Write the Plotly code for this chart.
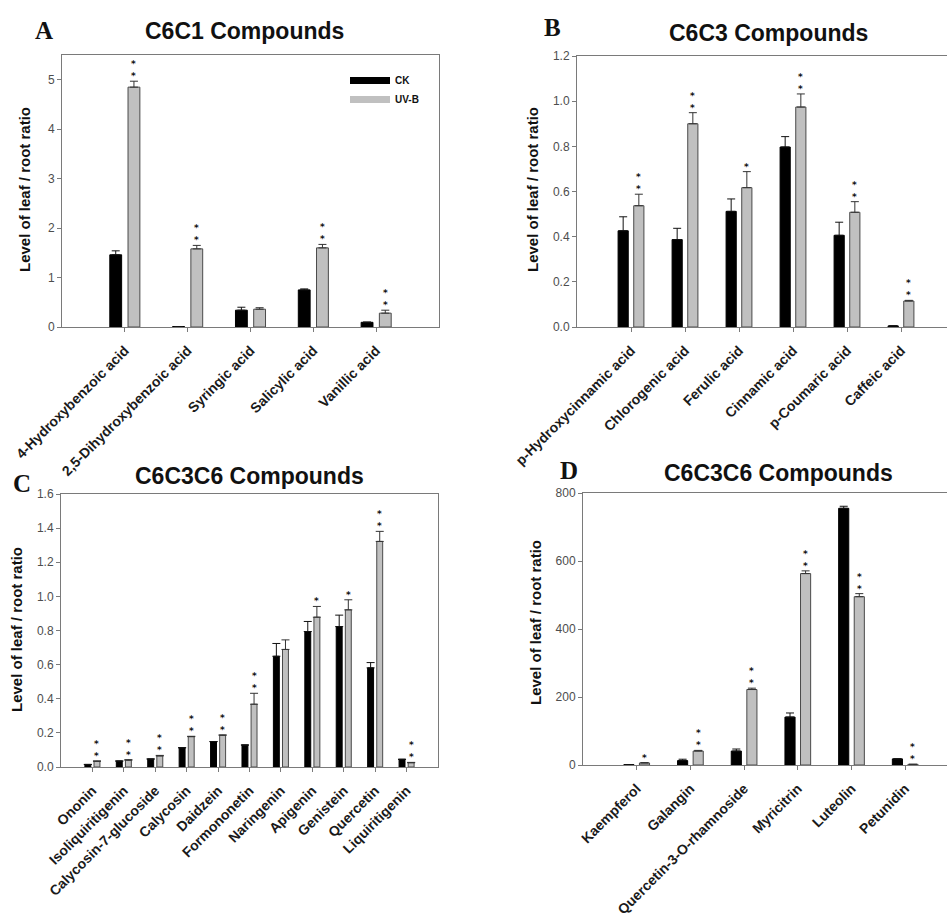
import plotly.graph_objects as go

W, H = 947, 916

# ---------------- data ----------------
a_cats = ["4-Hydroxybenzoic acid", "2,5-Dihydroxybenzoic acid", "Syringic acid", "Salicylic acid", "Vanillic acid"]
a_ck = [1.46, 0.01, 0.34, 0.75, 0.095]
a_ck_err = [0.08, 0.0, 0.06, 0.02, 0.005]
a_uv = [4.85, 1.58, 0.36, 1.60, 0.28]
a_uv_err = [0.12, 0.07, 0.03, 0.07, 0.06]
a_sig = ["**", "**", "", "**", "**"]

b_cats = ["p-Hydroxycinnamic acid", "Chlorogenic acid", "Ferulic acid", "Cinnamic acid", "p-Coumaric acid", "Caffeic acid"]
b_ck = [0.426, 0.387, 0.512, 0.797, 0.406, 0.005]
b_ck_err = [0.062, 0.050, 0.055, 0.046, 0.058, 0.0]
b_uv = [0.537, 0.900, 0.617, 0.974, 0.508, 0.115]
b_uv_err = [0.051, 0.049, 0.071, 0.058, 0.047, 0.003]
b_sig = ["**", "**", "*", "**", "**", "**"]

c_cats = ["Ononin", "Isoliquiritigenin", "Calycosin-7-glucoside", "Calycosin", "Daidzein", "Formononetin",
          "Naringenin", "Apigenin", "Genistein", "Quercetin", "Liquiritigenin"]
c_ck = [0.015, 0.035, 0.047, 0.113, 0.149, 0.129, 0.649, 0.794, 0.823, 0.581, 0.045]
c_ck_err = [0.0, 0.0, 0.0, 0.0, 0.0, 0.0, 0.075, 0.059, 0.067, 0.031, 0.0]
c_uv = [0.033, 0.040, 0.065, 0.178, 0.186, 0.368, 0.689, 0.878, 0.921, 1.322, 0.025]
c_uv_err = [0.003, 0.003, 0.003, 0.002, 0.002, 0.064, 0.056, 0.063, 0.059, 0.059, 0.002]
c_sig = ["**", "**", "**", "**", "**", "**", "", "*", "*", "**", "**"]

d_cats = ["Kaempferol", "Galangin", "Quercetin-3-O-rhamnoside", "Myricitrin", "Luteolin", "Petunidin"]
d_ck = [1, 13, 41, 141, 755, 18]
d_ck_err = [0, 4, 6, 12, 6, 0]
d_uv = [6, 41, 222, 563, 495, 2]
d_uv_err = [1, 2, 4, 8, 9, 0]
d_sig = ["*", "**", "**", "**", "**", "**"]

a_ticks = [0, 1, 2, 3, 4, 5]
b_ticks = [0.0, 0.2, 0.4, 0.6, 0.8, 1.0, 1.2]
c_ticks = [0.0, 0.2, 0.4, 0.6, 0.8, 1.0, 1.2, 1.4, 1.6]
d_ticks = [0, 200, 400, 600, 800]

titles = ["C6C1 Compounds", "C6C3 Compounds", "C6C3C6 Compounds", "C6C3C6 Compounds"]
letters = ["A", "B", "C", "D"]
ytitle = "Level of leaf / root ratio"

# ---------------- geometry / style ----------------
FONT = "Liberation Sans, Arial, sans-serif"
SERIF = "Liberation Serif, Times New Roman, serif"
STARFONT = "DejaVu Sans, sans-serif"
AXC = "#7a7a7a"
CK_COL = "#000000"
UV_COL = "#c0c0c0"
UV_LINE = "#4a4a4a"
BARGAP = 0.42
OFF = (1 - BARGAP) / 4  # center offset of each bar in a pair

# pixel boxes: left, right, top, bottom ; x range extents
panels = [
    dict(cats=a_cats, ck=a_ck, cke=a_ck_err, uv=a_uv, uve=a_uv_err, sig=a_sig, ticks=a_ticks, fmt="d",
         box=(62, 439, 55, 327), yr=[0, 5.5], xr_right=None, mirror_y=True,
         title=(244, 31), letter=(44, 30), ylab=(25, 190)),
    dict(cats=b_cats, ck=b_ck, cke=b_ck_err, uv=b_uv, uve=b_uv_err, sig=b_sig, ticks=b_ticks, fmt=".1f",
         box=(577, 947, 56, 327), yr=[0, 1.2], xr_right=54.0, mirror_y=False,
         title=(768, 33), letter=(552, 28), ylab=(533, 190)),
    dict(cats=c_cats, ck=c_ck, cke=c_ck_err, uv=c_uv, uve=c_uv_err, sig=c_sig, ticks=c_ticks, fmt=".1f",
         box=(61, 438, 494, 767), yr=[0, 1.6], xr_right=None, mirror_y=True,
         title=(250, 476), letter=(22, 483), ylab=(16, 630)),
    dict(cats=d_cats, ck=d_ck, cke=d_ck_err, uv=d_uv, uve=d_uv_err, sig=d_sig, ticks=d_ticks, fmt="d",
         box=(583, 947, 493, 765), yr=[0, 800], xr_right=53.7, mirror_y=False,
         title=(778, 473), letter=(569, 470), ylab=(535, 623)),
]

fig = go.Figure()
annotations = []
layout = {}

for i, p in enumerate(panels, start=1):
    xa = "x" if i == 1 else f"x{i}"
    ya = "y" if i == 1 else f"y{i}"
    xkey = "xaxis" if i == 1 else f"xaxis{i}"
    ykey = "yaxis" if i == 1 else f"yaxis{i}"
    n = len(p["cats"])
    fig.add_trace(go.Bar(
        x=p["cats"], y=p["ck"], name="CK", xaxis=xa, yaxis=ya, showlegend=False,
        marker=dict(color=CK_COL, line=dict(color=CK_COL, width=1)),
        error_y=dict(type="data", symmetric=False, array=p["cke"], arrayminus=[0] * n,
                     color="#111111", thickness=1, width=4),
    ))
    fig.add_trace(go.Bar(
        x=p["cats"], y=p["uv"], name="UV-B", xaxis=xa, yaxis=ya, showlegend=False,
        marker=dict(color=UV_COL, line=dict(color=UV_LINE, width=1)),
        error_y=dict(type="data", symmetric=False, array=p["uve"], arrayminus=[0] * n,
                     color="#333333", thickness=1, width=4),
    ))
    l, r, t, b = p["box"]
    if p["xr_right"] is None:
        xr = [-1, n]
    else:
        xr = [-1, -1 + (r - l) / p["xr_right"]]
    layout[xkey] = dict(
        domain=[l / W, r / W], anchor=ya, type="category", range=xr, automargin=False,
        showline=True, linecolor=AXC, linewidth=1, mirror=True,
        ticks="outside", ticklen=4, tickcolor=AXC, tickangle=-45, ticklabelstandoff=5,
        tickfont=dict(family=FONT, size=14, color="#1a1a1a", weight="bold"),
        showgrid=False, zeroline=False, fixedrange=True,
    )
    layout[ykey] = dict(
        domain=[1 - b / H, 1 - t / H], anchor=xa, range=p["yr"], automargin=False,
        tickvals=p["ticks"], tickformat=p["fmt"],
        showline=True, linecolor=AXC, linewidth=1, mirror=p["mirror_y"],
        ticks="outside", ticklen=4, tickcolor=AXC,
        tickfont=dict(family=FONT, size=12, color="#4d4d4d"),
        showgrid=False, zeroline=False, fixedrange=True,
    )
    # significance stars above UV-B error bars (stacked vertically)
    for j in range(n):
        s = p["sig"][j]
        if not s:
            continue
        annotations.append(dict(
            x=j + OFF, y=p["uv"][j] + p["uve"][j], xref=xa, yref=ya,
            text="<br>".join(s), showarrow=False, yanchor="bottom", xanchor="center",
            yshift=-1, borderpad=0,
            font=dict(family=STARFONT, size=9, color="#111111", weight="bold"),
        ))
    tx, ty = p["title"]
    annotations.append(dict(x=tx / W, y=1 - ty / H, xref="paper", yref="paper",
                            text=titles[i - 1], showarrow=False, xanchor="center", yanchor="middle",
                            font=dict(family=FONT, size=23, color="#111111", weight="bold")))
    lx, ly = p["letter"]
    annotations.append(dict(x=lx / W, y=1 - ly / H, xref="paper", yref="paper",
                            text=letters[i - 1], showarrow=False, xanchor="center", yanchor="middle",
                            font=dict(family=SERIF, size=25, color="#111111", weight="bold")))
    yx, yy = p["ylab"]
    annotations.append(dict(x=yx / W, y=1 - yy / H, xref="paper", yref="paper",
                            text=ytitle, showarrow=False, textangle=-90,
                            xanchor="center", yanchor="middle",
                            font=dict(family=FONT, size=15, color="#111111", weight="bold")))

# legend entries (panel A)
fig.add_trace(go.Scatter(x=[None], y=[None], mode="lines", name="CK",
                         line=dict(color=CK_COL, width=7), xaxis="x", yaxis="y"))
fig.add_trace(go.Scatter(x=[None], y=[None], mode="lines", name="UV-B",
                         line=dict(color=UV_COL, width=7), xaxis="x", yaxis="y"))

fig.update_layout(
    width=W, height=H, margin=dict(l=0, r=0, t=0, b=0, autoexpand=False),
    paper_bgcolor="white", plot_bgcolor="white",
    barmode="group", bargap=BARGAP, bargroupgap=0.35,
    showlegend=True,
    legend=dict(x=345 / W, y=1 - 66 / H, xanchor="left", yanchor="top",
                bgcolor="rgba(0,0,0,0)", tracegroupgap=0, itemwidth=40,
                font=dict(family=FONT, size=10, color="#111111", weight="bold")),
    annotations=annotations,
    **layout,
)

fig.write_html("out.html")
